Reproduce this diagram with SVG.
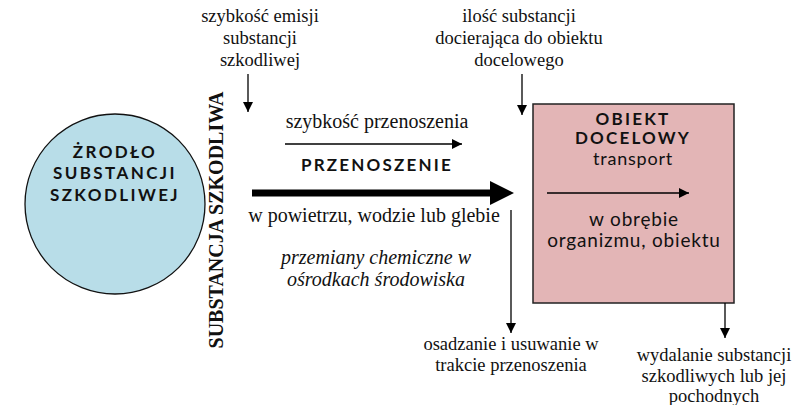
<svg xmlns="http://www.w3.org/2000/svg" width="803" height="405" viewBox="0 0 803 405">
<style>
.s{font-family:"Liberation Serif","Times New Roman",serif;font-size:18.5px;fill:#111;text-anchor:middle}
.m{font-size:20px}
.i{font-style:italic}
.b{font-family:"Lato","Open Sans",sans-serif;font-weight:bold;font-size:17px;fill:#111;text-anchor:middle;letter-spacing:2.2px}
.r{font-family:"Lato","Open Sans",sans-serif;font-size:19px;fill:#111;text-anchor:middle;letter-spacing:0.8px}
.v{font-family:"Liberation Serif","Times New Roman",serif;font-weight:bold;font-size:20px;fill:#111;text-anchor:middle}
.ln{stroke:#000;stroke-width:1.3;fill:none}
</style>
<defs>
<marker id="ah" viewBox="0 0 10 10" refX="10" refY="5" markerWidth="10" markerHeight="10" markerUnits="userSpaceOnUse" orient="auto"><path d="M0,0 L10,5 L0,10 Z" fill="#000"/></marker>
<marker id="av" viewBox="0 0 10 10" refX="10" refY="5" markerWidth="14" markerHeight="10" markerUnits="userSpaceOnUse" orient="auto"><path d="M0,0 L10,5 L0,10 Z" fill="#000"/></marker>
</defs>
<rect width="803" height="405" fill="#fff"/>
<g id="source">
<circle cx="115" cy="204" r="90" fill="#b8dde8" stroke="#111" stroke-width="1.3"/>
<text class="b" x="115" y="158" style="letter-spacing:2.4px">ŻRODŁO</text>
<text class="b" x="115" y="179" style="letter-spacing:2.4px">SUBSTANCJI</text>
<text class="b" x="115" y="201" style="letter-spacing:2.4px">SZKODLIWEJ</text>
</g>
<g id="substance">
<text class="v" transform="translate(223,220) rotate(-90)">SUBSTANCJA SZKODLIWA</text>
</g>
<g id="target">
<rect x="533" y="104" width="201" height="199" fill="#e3b5b6" stroke="#222" stroke-width="1.5"/>
<text class="b" x="633" y="125">OBIEKT</text>
<text class="b" x="633" y="144">DOCELOWY</text>
<text class="r" x="633" y="165" style="font-size:18px">transport</text>
<text class="r" x="634" y="226">w obrębie</text>
<text class="r" x="634" y="247">organizmu, obiektu</text>
</g>
<g id="labels">
<text class="s" x="260" y="22">szybkość emisji</text>
<text class="s" x="260" y="44">substancji</text>
<text class="s" x="260" y="66">szkodliwej</text>
<text class="s" x="519" y="22">ilość substancji</text>
<text class="s" x="519" y="44">docierająca do obiektu</text>
<text class="s" x="519" y="66">docelowego</text>
<text class="s m" x="377" y="128">szybkość przenoszenia</text>
<text class="b" x="377" y="171">PRZENOSZENIE</text>
<text class="s m" x="374" y="222">w powietrzu, wodzie lub glebie</text>
<text class="s m i" x="376" y="264">przemiany chemiczne w</text>
<text class="s m i" x="376" y="286">ośrodkach środowiska</text>
<text class="s" x="511" y="350">osadzanie i usuwanie w</text>
<text class="s" x="511" y="371">trakcie przenoszenia</text>
<text class="s" x="714" y="361">wydalanie substancji</text>
<text class="s" x="714" y="382">szkodliwych lub jej</text>
<text class="s" x="714" y="402">pochodnych</text>
</g>
<g id="connectors">
<line class="ln" x1="248" y1="74" x2="248" y2="112" marker-end="url(#av)"/>
<line class="ln" x1="522" y1="74" x2="522" y2="115" marker-end="url(#av)"/>
<line class="ln" x1="285" y1="144" x2="462" y2="144" marker-end="url(#ah)"/>
<line stroke="#000" stroke-width="7" x1="252" y1="193" x2="492" y2="193"/>
<polygon points="490,181 514,193 490,205" fill="#000"/>
<line class="ln" x1="511" y1="210" x2="511" y2="333" marker-end="url(#av)"/>
<line class="ln" x1="547" y1="193" x2="689" y2="193" marker-end="url(#ah)"/>
<line class="ln" x1="725" y1="303" x2="725" y2="338" marker-end="url(#av)"/>
</g>
</svg>
